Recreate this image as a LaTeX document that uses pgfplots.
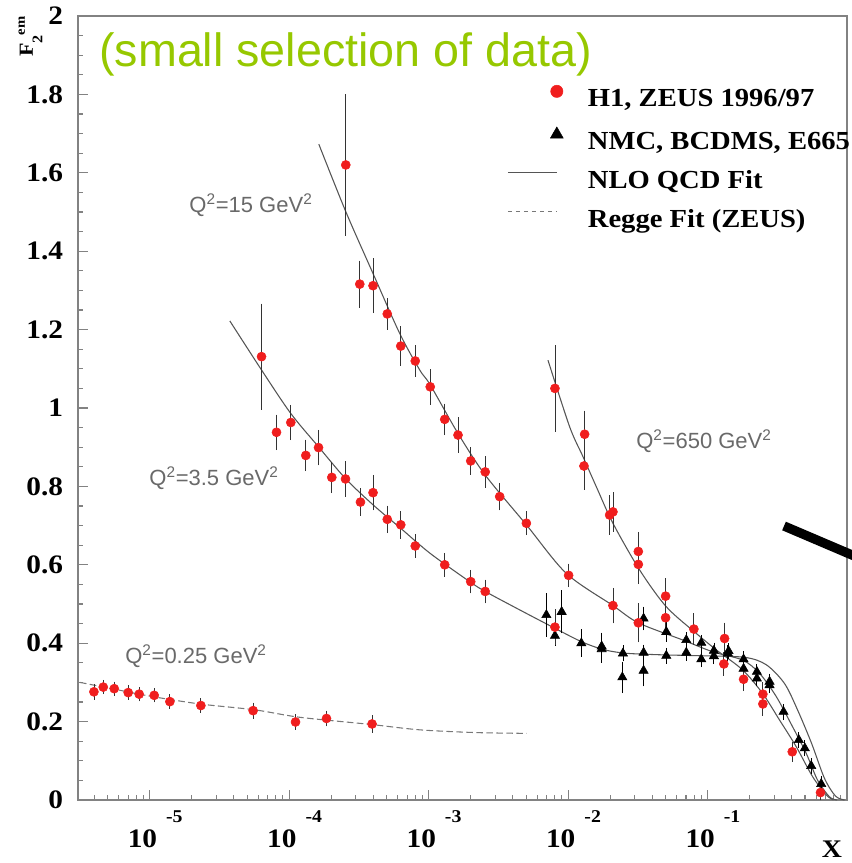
\documentclass[border=0pt]{standalone}
\usepackage{pgfplots}
\pgfplotsset{compat=1.18}
\usepackage{fontspec}
\setmainfont{Liberation Serif}[FakeStretch=1.1]
\newfontfamily\lsans{Liberation Sans}
\definecolor{limeg}{RGB}{150,200,0}
\definecolor{mred}{RGB}{240,30,30}
\definecolor{axgray}{RGB}{130,130,130}
\definecolor{curvegray}{RGB}{85,85,85}
\definecolor{dashgray}{RGB}{120,120,120}
\definecolor{lblgray}{RGB}{105,105,105}
\newcommand\xtl[1]{\fontsize{20}{20}\selectfont\bfseries 10\hspace{6.75pt}\raisebox{18.75pt}{\fontsize{13.5}{13.5}\selectfont #1}}

\pgfplotstableread{
x y e
3.968e-6 0.276 0.010
4.63e-6 0.288 0.008
5.55e-6 0.284 0.008
6.99e-6 0.274 0.008
8.38e-6 0.270 0.008
1.074e-5 0.267 0.008
1.391e-5 0.251 0.008
2.321e-5 0.241 0.008
5.502e-5 0.228 0.010
1.108e-4 0.199 0.010
1.848e-4 0.208 0.010
3.922e-4 0.194 0.012
6.32e-5 1.131 0.125
8.094e-5 0.938 0.035
1.025e-4 0.963 0.035
1.313e-4 0.879 0.030
1.620e-4 0.899 0.035
2.017e-4 0.823 0.030
2.529e-4 0.819 0.035
3.239e-4 0.760 0.025
3.987e-4 0.784 0.035
5.041e-4 0.716 0.025
6.301e-4 0.702 0.025
8.003e-4 0.648 0.020
1.302e-3 0.600 0.020
2.001e-3 0.557 0.020
2.541e-3 0.532 0.020
8.04e-3 0.441 0.035
2.541e-4 1.620 0.170
3.202e-4 1.316 0.050
3.987e-4 1.312 0.060
5.041e-4 1.240 0.030
6.301e-4 1.158 0.040
8.003e-4 1.120 0.030
1.025e-3 1.054 0.035
1.302e-3 0.971 0.030
1.622e-3 0.931 0.035
2.001e-3 0.865 0.025
2.541e-3 0.837 0.030
3.228e-3 0.774 0.025
5.016e-3 0.706 0.020
1.008e-2 0.573 0.020
2.095e-2 0.496 0.035
3.186e-2 0.452 0.040
8.04e-3 1.050 0.100
1.313e-2 0.933 0.050
1.298e-2 0.852 0.050
1.984e-2 0.727 0.040
2.095e-2 0.735 0.040
3.186e-2 0.634 0.040
3.186e-2 0.601 0.040
5.0e-2 0.520 0.035
5.0e-2 0.465 0.030
7.976e-2 0.436 0.030
0.1324 0.412 0.030
0.1309 0.347 0.020
0.1812 0.308 0.020
0.2492 0.270 0.020
0.2492 0.245 0.020
0.4049 0.123 0.015
0.6457 0.019 0.010
}\reddata

\pgfplotstableread{
x y e
6.979e-3 0.472 0.045
8.982e-3 0.480 0.045
8.04e-3 0.419 0.015
1.243e-2 0.400 0.025
1.739e-2 0.385 0.025
1.739e-2 0.392 0.025
2.446e-2 0.313 0.030
2.471e-2 0.374 0.010
3.476e-2 0.376 0.010
3.476e-2 0.330 0.030
3.476e-2 0.463 0.020
5.057e-2 0.368 0.010
5.057e-2 0.429 0.015
7.036e-2 0.376 0.010
7.036e-2 0.408 0.010
9.015e-2 0.359 0.010
9.015e-2 0.401 0.010
0.1110 0.381 0.010
0.1110 0.367 0.010
0.1398 0.374 0.010
0.1414 0.380 0.010
0.1812 0.359 0.010
0.1812 0.335 0.010
0.2257 0.327 0.010
0.2257 0.310 0.010
0.2783 0.302 0.010
0.2783 0.293 0.010
0.3506 0.225 0.010
0.4513 0.153 0.010
0.4983 0.132 0.010
0.5537 0.087 0.010
0.6533 0.041 0.010
}\tridata

\begin{document}
\begin{tikzpicture}
\path[use as bounding box] (-58.5pt,-47.25pt) rectangle (580.5pt,600pt);
\begin{axis}[
  at={(0pt,0pt)}, anchor=south west,
  scale only axis, width=576.75pt, height=588pt,
  xmode=log, xmin=3.05e-6, xmax=1, ymin=0, ymax=2,
  axis line style={axgray, line width=0.8pt},
  tick style={axgray, line width=0.8pt},
  tick align=inside, xtick pos=bottom, ytick pos=left,
  major tick length=7.5pt, minor tick length=3.75pt,
  ytick={0,0.2,0.4,0.6,0.8,1,1.2,1.4,1.6,1.8,2},
  minor y tick num=3,
  yticklabels={0,0.2,0.4,0.6,0.8,1,1.2,1.4,1.6,1.8,2},
  yticklabel style={font=\fontsize{20}{20}\selectfont\bfseries, anchor=east, inner sep=0pt, xshift=-11pt},
  xtick={1e-5,1e-4,1e-3,1e-2,1e-1},
  minor xtick={4e-6,5e-6,6e-6,7e-6,8e-6,9e-6,2e-5,3e-5,4e-5,5e-5,6e-5,7e-5,8e-5,9e-5,2e-4,3e-4,4e-4,5e-4,6e-4,7e-4,8e-4,9e-4,2e-3,3e-3,4e-3,5e-3,6e-3,7e-3,8e-3,9e-3,2e-2,3e-2,4e-2,5e-2,6e-2,7e-2,8e-2,9e-2,0.2,0.3,0.4,0.5,0.6,0.7,0.8,0.9},
  xticklabels={\xtl{-5},\xtl{-4},\xtl{-3},\xtl{-2},\xtl{-1}},
  xticklabel style={anchor=base, inner sep=0pt, yshift=-35.25pt, xshift=4pt},
  legend style={at={(0.5579,0.9124)}, anchor=north west, draw=none, fill=none,
    inner sep=0pt, column sep=18.5pt, row sep=11.25pt,
    font=\fontsize{19.5}{19.5}\selectfont\bfseries,
    nodes={inner sep=0pt, text height=14pt, text depth=4pt}},
  legend cell align=left,
]
\addlegendimage{legend image code/.code={\path (0pt,0pt) (40pt,0pt); \fill[mred] (36.75pt,6.5pt) circle (4.6pt);}}
\addlegendentry{H1, ZEUS 1996/97}
\addlegendimage{legend image code/.code={\path (0pt,0pt) (40pt,0pt); \draw[black, mark=triangle*, mark size=5.5pt] plot coordinates {(36.75pt,6pt)};}}
\addlegendentry{NMC, BCDMS, E665}
\addlegendimage{legend image code/.code={\path (0pt,0pt) (40pt,0pt); \draw[curvegray, line width=0.8pt] (0pt,6.5pt) -- (36.75pt,6.5pt);}}
\addlegendentry{NLO QCD Fit}
\addlegendimage{legend image code/.code={\path (0pt,0pt) (40pt,0pt); \draw[dashgray, line width=0.8pt, dash pattern=on 3.5pt off 2.5pt] (0pt,6.5pt) -- (36.75pt,6.5pt);}}
\addlegendentry{Regge Fit (ZEUS)}

% Regge fit, Q2=0.25
\addplot[forget plot, dashgray, line width=0.8pt, dash pattern=on 5pt off 2.5pt, smooth, tension=0.5] coordinates {
(3.148e-6,0.300) (5.17e-6,0.285) (1.0e-5,0.265) (2.28e-5,0.245) (5.658e-5,0.230)
(1.189e-4,0.211) (3.777e-4,0.193) (8.619e-4,0.179) (2.172e-3,0.172) (5.04e-3,0.170)};
% NLO, Q2=3.5
\addplot[forget plot, curvegray, line width=0.8pt, smooth, tension=0.5] coordinates {
(3.746e-5,1.222) (6.32e-5,1.097) (1.025e-4,0.986) (1.620e-4,0.901) (2.529e-4,0.820)
(3.987e-4,0.753) (6.301e-4,0.693) (1.025e-3,0.629) (1.968e-3,0.557) (2.541e-3,0.532)
(4.491e-3,0.485) (8.04e-3,0.438) (1.243e-2,0.404) (1.776e-2,0.384) (2.471e-2,0.375)
(3.476e-2,0.372) (5.057e-2,0.370) (8.766e-2,0.368) (0.1842,0.364) (0.2636,0.345)
(0.3565,0.297) (0.4417,0.230) (0.5564,0.145) (0.6898,0.055) (0.8270,0.010) (0.9596,0.0)};
% NLO, Q2=15
\addplot[forget plot, curvegray, line width=0.8pt, smooth, tension=0.5] coordinates {
(1.628e-4,1.673) (2.541e-4,1.501) (3.987e-4,1.343) (6.197e-4,1.190) (8.619e-4,1.097)
(1.025e-3,1.059) (1.622e-3,0.935) (2.541e-3,0.829) (5.016e-3,0.702) (9.707e-3,0.578)
(2.095e-2,0.496) (3.186e-2,0.452) (6.653e-2,0.408) (0.1091,0.378) (0.1782,0.357)
(0.2360,0.323) (0.3108,0.264) (0.4069,0.187) (0.5099,0.119) (0.6145,0.051)
(0.7490,0.008) (0.85,0.0)};
% NLO, Q2=650
\addplot[forget plot, curvegray, line width=0.8pt, smooth, tension=0.5] coordinates {
(7.166e-3,1.122) (1.025e-2,0.952) (1.277e-2,0.876) (1.593e-2,0.799) (2.095e-2,0.706)
(3.254e-2,0.587) (5.057e-2,0.493) (8.298e-2,0.425) (0.1154,0.383) (0.1782,0.332)
(0.2480,0.272) (0.3282,0.204) (0.4323,0.136) (0.5657,0.060) (0.7094,0.013) (0.80,0.0)};

% fixed-target data
\addplot[forget plot, only marks, mark=triangle*, mark size=4pt, black,
  error bars/.cd, y dir=both, y explicit, error mark=-,
  error bar style={black, line width=0.6pt},
  error mark options={black, line width=0.6pt, mark size=3pt}]
  table[x=x, y=y, y error=e] {\tridata};
% HERA data
\addplot[forget plot, only marks, mark=*, mark size=3.4pt, mred, mark options={draw=mred, fill=mred},
  error bars/.cd, y dir=both, y explicit, error mark=-,
  error bar style={black!80, line width=0.6pt},
  error mark options={black!80, line width=0.6pt, mark size=3pt}]
  table[x=x, y=y, y error=e] {\reddata};
\end{axis}

\node[rotate=90, anchor=base west, inner sep=0pt, font=\fontsize{15}{15}\selectfont\bfseries] at (-33.75pt,557.25pt)
  {F\raisebox{-7pt}{\fontsize{11}{11}\selectfont 2}\raisebox{6pt}{\fontsize{10}{10}\selectfont em}};
\node[anchor=base, inner sep=0pt, font=\fontsize{19}{19}\selectfont\bfseries] at (565.5pt,-43.5pt) {X};
\node[anchor=base west, inner sep=0pt, text=limeg, font=\lsans\fontsize{35}{35}\selectfont] at (15.75pt,549.75pt) {(small selection of data)};
\begin{scope}[every node/.style={text=lblgray, inner sep=0pt, font=\lsans\fontsize{16.5}{16.5}\selectfont}]
\node at (129.75pt,446.25pt) {Q\textsuperscript{2}=15 GeV\textsuperscript{2}};
\node at (102pt,241.5pt) {Q\textsuperscript{2}=3.5 GeV\textsuperscript{2}};
\node at (88.5pt,108pt) {Q\textsuperscript{2}=0.25 GeV\textsuperscript{2}};
\node at (469.5pt,269.25pt) {Q\textsuperscript{2}=650 GeV\textsuperscript{2}};
\end{scope}
\draw[black, line width=7pt] (529.5pt,205.5pt) -- (590pt,179.7pt);
\end{tikzpicture}
\end{document}
